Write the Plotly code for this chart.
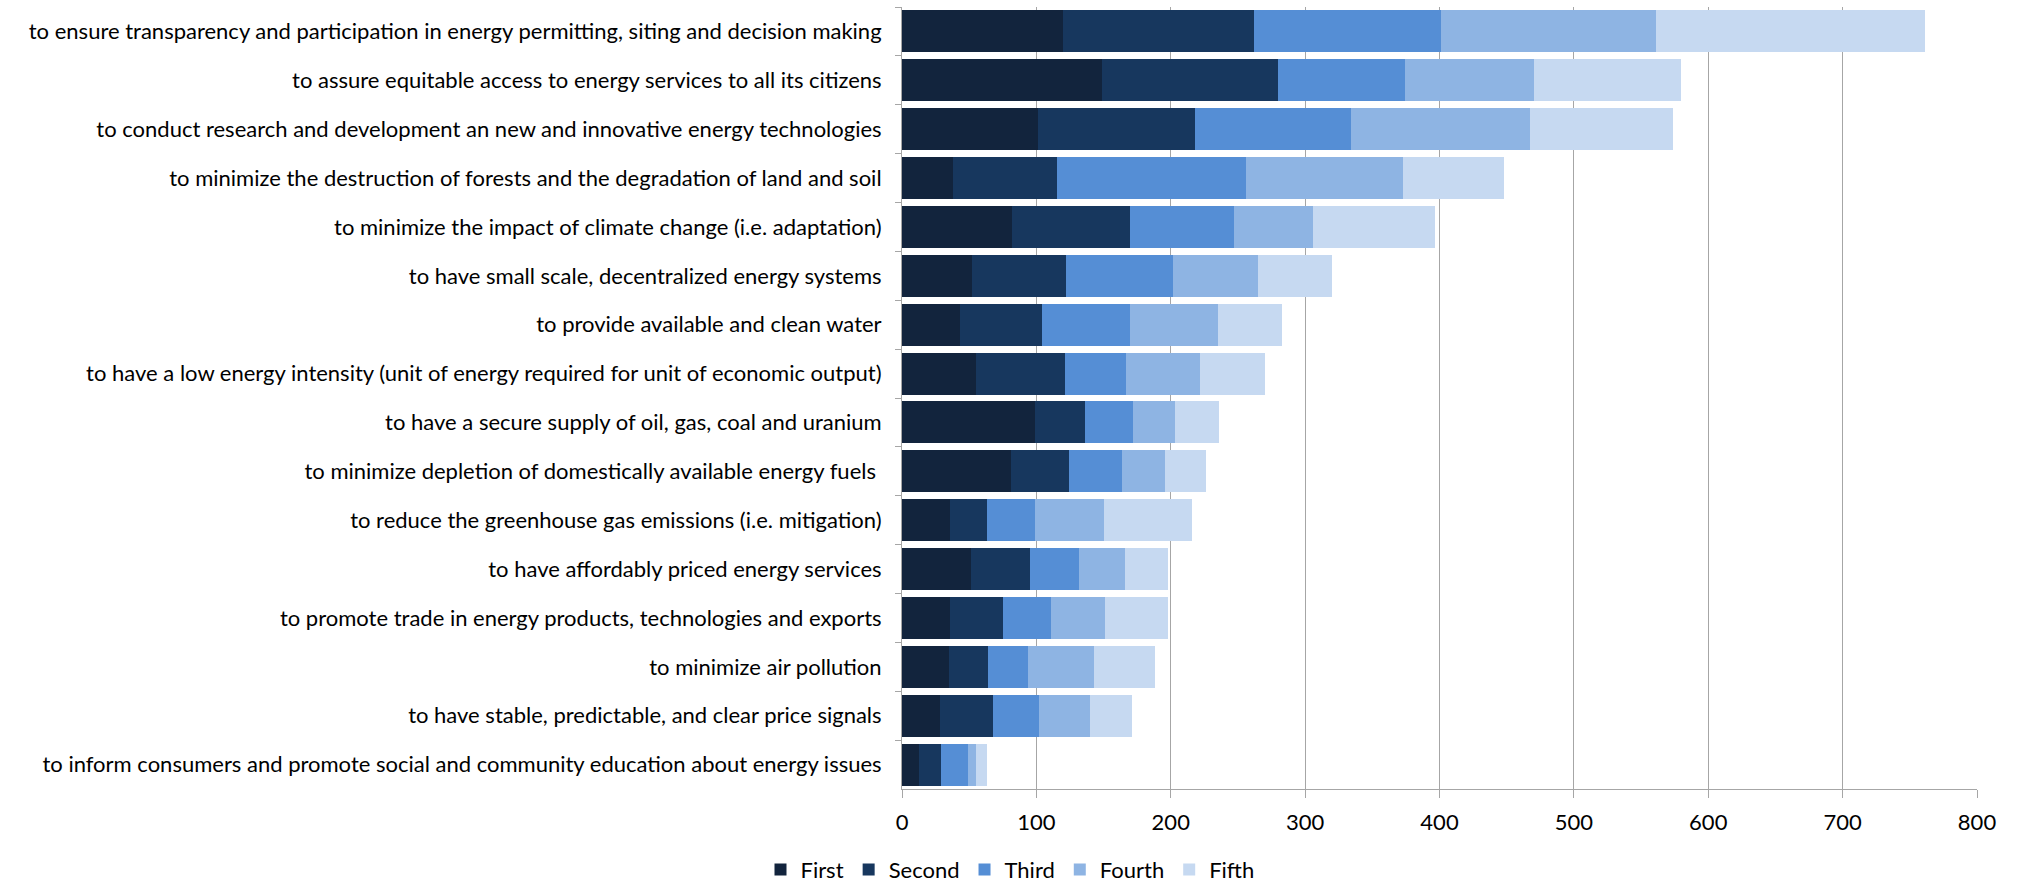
import plotly.graph_objects as go

categories = [
    "to ensure transparency and participation in energy permitting, siting and decision making",
    "to assure equitable access to energy services to all its citizens",
    "to conduct research and development an new and innovative energy technologies",
    "to minimize the destruction of forests and the degradation of land and soil",
    "to minimize the impact of climate change (i.e. adaptation)",
    "to have small scale, decentralized energy systems",
    "to provide available and clean water",
    "to have a low energy intensity (unit of energy required for unit of economic output)",
    "to have a secure supply of oil, gas, coal and uranium",
    "to minimize depletion of domestically available energy fuels ",
    "to reduce the greenhouse gas emissions (i.e. mitigation)",
    "to have affordably priced energy services",
    "to promote trade in energy products, technologies and exports",
    "to minimize air pollution",
    "to have stable, predictable, and clear price signals",
    "to inform consumers and promote social and community education about energy issues",
]

first  = [120, 149, 101, 38, 82, 52, 43, 55, 99, 81, 36, 51, 36, 35, 28, 13]
second = [142, 131, 117, 77, 88, 70, 61, 66, 37, 43, 27, 44, 39, 29, 40, 16]
third  = [139, 94, 116, 141, 77, 80, 66, 46, 36, 40, 36, 37, 36, 30, 34, 20]
fourth = [160, 96, 133, 117, 59, 63, 65, 55, 31, 32, 51, 34, 40, 49, 38, 6]
fifth  = [200, 110, 107, 75, 91, 55, 48, 48, 33, 30, 66, 32, 47, 45, 31, 8]

series_names = ["First", "Second", "Third", "Fourth", "Fifth"]
series_values = [first, second, third, fourth, fifth]
colors = ["#12243D", "#17375E", "#558ED5", "#8EB4E3", "#C6D9F1"]

x_ticks = [0, 100, 200, 300, 400, 500, 600, 700, 800]

FONT = "Lato, 'Open Sans', sans-serif"
FS = 22

fig = go.Figure()
for name, vals, col in zip(series_names, series_values, colors):
    fig.add_trace(go.Bar(
        y=categories, x=vals, name=name, orientation="h",
        marker=dict(color=col, line=dict(width=0)),
    ))

fig.update_layout(
    barmode="stack",
    bargap=0.14,
    width=2020, height=883,
    margin=dict(l=902, r=43, t=7, b=94, autoexpand=False),
    paper_bgcolor="white", plot_bgcolor="white",
    font=dict(family=FONT, size=FS, color="#000000"),
    showlegend=True,
    legend=dict(
        orientation="h", xref="container", yref="container",
        x=0.5, xanchor="center", y=0.015, yanchor="middle",
        font=dict(size=FS, family=FONT, color="#000000"),
        traceorder="normal", itemwidth=30,
    ),
)
fig.update_xaxes(
    range=[0, 800], tickvals=x_ticks,
    showgrid=True, gridcolor="#A6A6A6", gridwidth=1,
    showline=True, linecolor="#A6A6A6", linewidth=1,
    ticks="outside", ticklen=8, tickcolor="#A6A6A6",
    zeroline=False, ticklabelstandoff=6,
    tickfont=dict(size=FS, family=FONT, color="#000000"),
)
fig.update_yaxes(
    categoryorder="array", categoryarray=categories, autorange="reversed",
    showline=True, linecolor="#A6A6A6", linewidth=1,
    ticks="outside", ticklen=6, tickcolor="#A6A6A6", tickson="boundaries",
    showgrid=False, ticklabelstandoff=15,
    tickfont=dict(size=FS, family=FONT, color="#000000"),
)

fig.write_html(
    "out.html",
    config={"displayModeBar": False},
    post_script="document.body.style.margin='0';document.body.style.overflow='hidden';",
)
